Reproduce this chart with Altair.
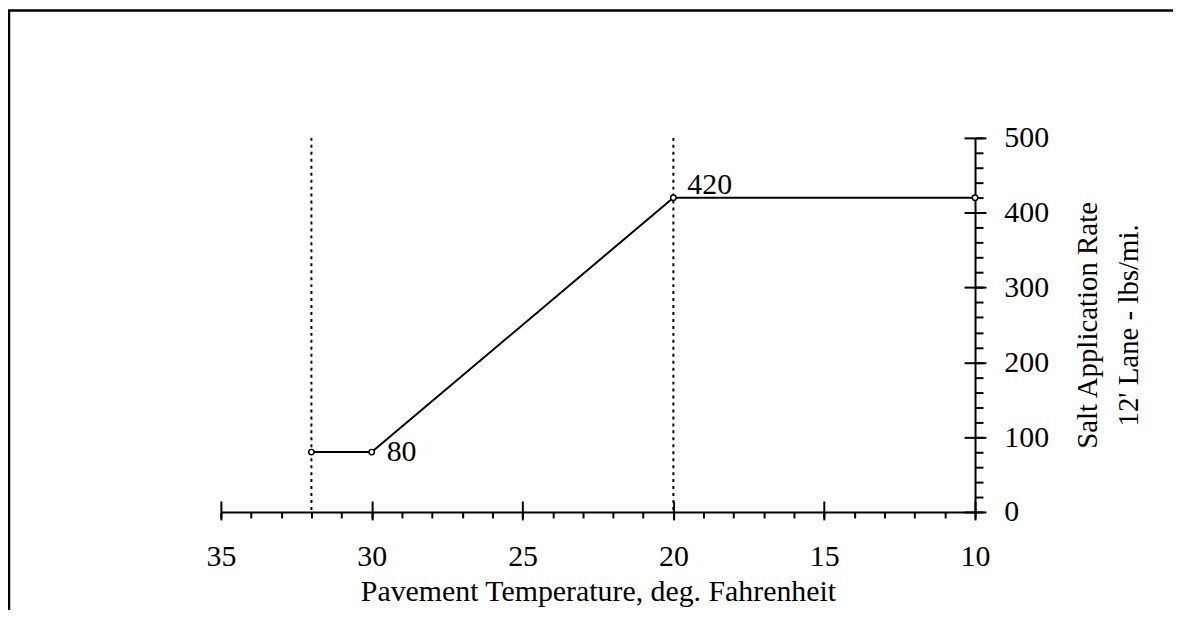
import altair as alt
import pandas as pd

# ---- data ----
temps = [32, 30, 20, 10]
rates = [80, 80, 420, 420]

ref_temps = [32, 20]
ref_top = [500, 500]
ref_bottom = [0, 0]

low_label_text = ["80"]
low_label_temp = [30]
low_label_rate = [80]

high_label_text = ["420"]
high_label_temp = [20]
high_label_rate = [420]

x_major = [35, 30, 25, 20, 15, 10]
x_minor = list(range(10, 36))
y_major = [0, 100, 200, 300, 400, 500]
y_minor = list(range(0, 501, 20))

x_title = "Pavement Temperature, deg. Fahrenheit"
y_title = ["Salt Application Rate", "12' Lane - lbs/mi."]

FONT = "Liberation Serif"
W, H = 758, 376

line_df = pd.DataFrame({"temp": temps, "rate": rates})
ref_df = pd.DataFrame({"temp": ref_temps, "top": ref_top, "bottom": ref_bottom})
low_df = pd.DataFrame({"temp": low_label_temp, "rate": low_label_rate, "label": low_label_text})
high_df = pd.DataFrame({"temp": high_label_temp, "rate": high_label_rate, "label": high_label_text})
frame_df = pd.DataFrame({"k": [0]})

xs = alt.Scale(domain=[35, 10], nice=False, zero=False)
ys = alt.Scale(domain=[0, 500], nice=False, zero=False)

common = dict(domainColor="black", tickColor="black", labelColor="black",
              titleColor="black", grid=False, domainWidth=2, tickWidth=2)

# main axes (labels + titles)
x_main = alt.Axis(orient="bottom", values=x_major, tickSize=8, labelFont=FONT,
                  labelFontSize=30, labelBaseline="alphabetic", labelPadding=46,
                  labelFlush=False, title=x_title, titleFont=FONT, titleFontSize=30,
                  titleFontWeight="normal", titleBaseline="alphabetic", titleAlign="center",
                  titleX=W / 2, titleY=89, **common)
y_main = alt.Axis(orient="right", values=y_major, tickSize=11, labelFont=FONT,
                  labelFontSize=30, labelPadding=18, labelAlign="left",
                  labelBaseline="middle", labelFlush=False,
                  title=y_title, titleFont=FONT, titleFontSize=29, titleFontWeight="normal",
                  titleAngle=270, titleAlign="center", titleBaseline="alphabetic",
                  titleLineHeight=41, titleX=122, titleY=188, **common)

# crossing half of major ticks
x_cross = alt.Axis(orient="top", offset=-H, values=x_major, tickSize=11, labels=False,
                   domain=False, title=None, **common)
y_cross = alt.Axis(orient="left", offset=-W, values=y_major, tickSize=11, labels=False,
                   domain=False, title=None, **common)

# minor ticks
x_minor_ax = alt.Axis(orient="bottom", values=x_minor, tickSize=6, labels=False,
                      domain=False, title=None, **common)
y_minor_ax = alt.Axis(orient="right", values=y_minor, tickSize=8, labels=False,
                      domain=False, title=None, **common)

line = alt.Chart(line_df).mark_line(color="black", strokeWidth=2).encode(
    x=alt.X("temp:Q", scale=xs, axis=x_main),
    y=alt.Y("rate:Q", scale=ys, axis=y_main),
)

points = alt.Chart(line_df).mark_point(shape="circle", size=30, filled=True,
                                       fill="white", stroke="black",
                                       strokeWidth=1.5, opacity=1).encode(
    x=alt.X("temp:Q", scale=xs, axis=x_cross),
    y=alt.Y("rate:Q", scale=ys, axis=y_cross),
)

rules = alt.Chart(ref_df).mark_rule(color="black", strokeWidth=2,
                                    strokeDash=[3, 4]).encode(
    x=alt.X("temp:Q", scale=xs, axis=x_minor_ax),
    y=alt.Y("top:Q", scale=ys, axis=y_minor_ax),
    y2="bottom:Q",
)

low_text = alt.Chart(low_df).mark_text(font=FONT, fontSize=30, color="black",
                                       align="left", baseline="alphabetic",
                                       dx=15, dy=9).encode(
    x=alt.X("temp:Q", scale=xs, axis=None),
    y=alt.Y("rate:Q", scale=ys, axis=None),
    text="label:N",
)

high_text = alt.Chart(high_df).mark_text(font=FONT, fontSize=30, color="black",
                                         align="left", baseline="alphabetic",
                                         dx=14, dy=-4).encode(
    x=alt.X("temp:Q", scale=xs, axis=None),
    y=alt.Y("rate:Q", scale=ys, axis=None),
    text="label:N",
)

frame = alt.Chart(frame_df).mark_rect(fillOpacity=0, stroke="black",
                                      strokeWidth=2.5).encode(
    x=alt.value(-213), x2=alt.value(1000),
    y=alt.value(-128), y2=alt.value(600),
)

chart = alt.layer(frame, rules, line, points, low_text, high_text).resolve_axis(
    x="independent", y="independent"
).properties(
    width=W, height=H,
    padding={"left": 214, "top": 129, "right": 199, "bottom": 97},
    autosize=alt.AutoSizeParams(type="none"),
    background="white",
).configure_view(stroke="transparent")

chart.save("out.html", embed_options={"renderer": "svg", "actions": False})
